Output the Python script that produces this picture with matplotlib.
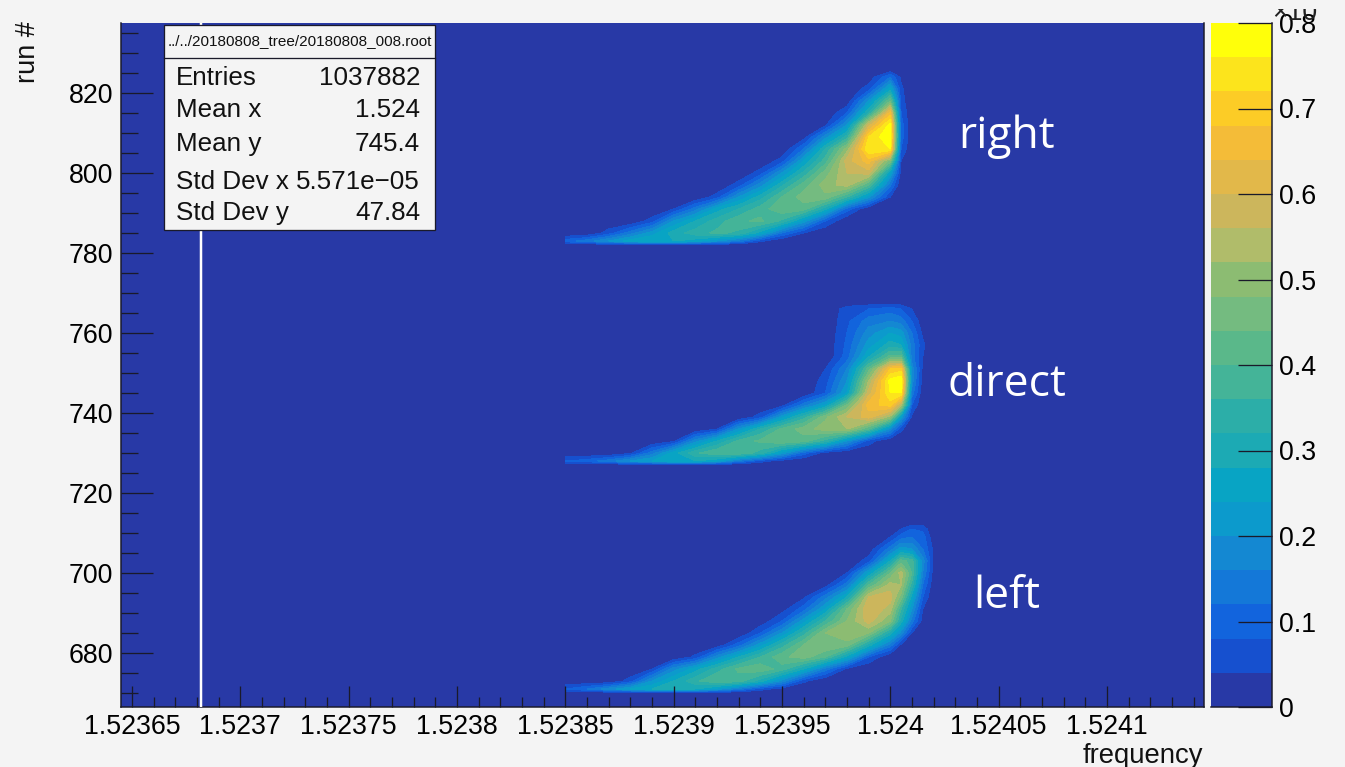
#!/usr/bin/env python3
# -*- coding: utf-8 -*-
"""
 Frequency vs run number map, three scan positions (right / direct / left)
 Values read off the picture on a coarse grid, z in units of 0.01
"""

import numpy as np
import matplotlib
matplotlib.use("Agg")
import matplotlib.pyplot as plt
from matplotlib.colors import BoundaryNorm, ListedColormap
from matplotlib.patches import Rectangle
from matplotlib.ticker import FixedLocator, FixedFormatter, MultipleLocator
from matplotlib.transforms import Bbox

# frequency nodes of the coarse grid
freq_nodes = [1.52385, 1.52386, 1.52387, 1.52388, 1.52389, 1.52390, 1.52391, 1.52392,
              1.52393, 1.52394, 1.52395, 1.52396, 1.52397, 1.52398, 1.52399, 1.52400,
              1.524005, 1.52401, 1.524015, 1.52402]

# each band: run of the row, first non empty column, values from that column on
right_runs = [782, 783, 785, 788, 791, 794, 797, 800, 803, 806, 809, 812, 815, 818, 821, 824, 826]
right_start = [0, 0, 2, 4, 5, 7, 8, 9, 10, 11, 11, 12, 13, 13, 14, 14, 0]
right_vals = [
    [],
    [10, 14, 20, 26, 28, 28, 26, 20, 14, 5],
    [6, 14, 22, 30, 34, 37, 35, 26, 12, 4],
    [6, 20, 28, 34, 39, 41, 35, 22, 8],
    [4, 14, 26, 32, 38, 43, 42, 29, 10],
    [6, 20, 30, 40, 46, 47, 36, 21, 4],
    [6, 18, 31, 42, 50, 54, 40, 13],
    [6, 20, 33, 46, 56, 58, 24, 2],
    [6, 24, 38, 58, 66, 46, 4],
    [12, 32, 50, 76, 76, 8],
    [2, 18, 34, 72, 80, 10],
    [3, 20, 58, 78, 10],
    [8, 32, 66, 8],
    [1, 20, 44, 6],
    [6, 26, 5],
    [1, 12, 3],
    [],
]

direct_runs = [727, 728, 730, 733, 736, 739, 742, 745, 748, 751, 754, 757, 760, 763, 766, 768]
direct_start = [0, 0, 3, 5, 7, 9, 10, 12, 12, 12, 13, 13, 13, 13, 13, 0]
direct_vals = [
    [],
    [8, 10, 14, 20, 24, 28, 28, 24, 14, 6, 2],
    [3, 14, 26, 35, 40, 40, 34, 22, 10, 2],
    [3, 18, 28, 37, 41, 44, 42, 34, 20, 6],
    [4, 20, 32, 41, 46, 50, 52, 40, 18, 5],
    [6, 22, 34, 47, 56, 62, 50, 22, 3],
    [2, 14, 24, 44, 66, 70, 54, 8],
    [8, 24, 58, 76, 76, 14, 1],
    [6, 20, 52, 78, 80, 18, 2],
    [4, 16, 42, 68, 70, 18, 3],
    [10, 28, 42, 42, 14, 4],
    [9, 22, 30, 28, 14, 5],
    [8, 18, 24, 22, 12, 3],
    [7, 14, 16, 14, 8, 1],
    [6, 8, 10, 8, 4],
    [],
]

left_runs = [670, 671, 673, 676, 679, 682, 685, 688, 691, 694, 697, 700, 703, 706, 709, 711, 713]
left_start = [0, 0, 3, 4, 6, 7, 9, 9, 10, 11, 12, 13, 14, 14, 15, 16, 0]
left_vals = [
    [],
    [8, 12, 18, 24, 28, 30, 28, 22, 14, 6, 2],
    [6, 20, 28, 35, 40, 38, 30, 18, 5],
    [4, 18, 26, 34, 41, 43, 38, 28, 14, 3],
    [5, 18, 28, 36, 43, 46, 40, 26, 8],
    [1, 10, 22, 34, 44, 48, 46, 30, 14, 3],
    [8, 20, 34, 48, 52, 48, 30, 18, 4],
    [1, 8, 22, 36, 48, 58, 48, 30, 14, 2],
    [2, 10, 24, 44, 60, 54, 36, 20, 4],
    [3, 14, 28, 56, 58, 46, 26, 8],
    [2, 14, 40, 54, 52, 34, 12, 1],
    [4, 24, 44, 54, 40, 16, 2],
    [6, 28, 42, 38, 18, 3],
    [1, 14, 22, 20, 12, 3],
    [4, 10, 12, 10, 1],
    [4, 8, 7],
    [],
]

white_line_freq = 1.523682

# 20 colour bands of the palette, z axis
z_levels = [0.00, 0.04, 0.08, 0.12, 0.16, 0.20, 0.24, 0.28, 0.32, 0.36, 0.40,
            0.44, 0.48, 0.52, 0.56, 0.60, 0.64, 0.68, 0.72, 0.76, 0.80]
z_colors = ["#2839a6", "#1650cf", "#1264dd", "#1478d8", "#1488d2", "#0c9acc", "#08a4c4",
            "#1caab4", "#2caea8", "#44b498", "#5ab88a", "#74bb80", "#8cbc72", "#b0bc6a",
            "#ccb65c", "#e2b84a", "#f4bc38", "#fccc26", "#fce41c", "#ffff0a"]
z_ticks = [0, 0.1, 0.2, 0.3, 0.4, 0.5, 0.6, 0.7, 0.8]
z_tick_labels = ["0", "0.1", "0.2", "0.3", "0.4", "0.5", "0.6", "0.7", "0.8"]

x_ticks = [1.52365, 1.5237, 1.52375, 1.5238, 1.52385, 1.5239, 1.52395, 1.524, 1.52405, 1.5241]
x_tick_labels = ["1.52365", "1.5237", "1.52375", "1.5238", "1.52385", "1.5239", "1.52395",
                 "1.524", "1.52405", "1.5241"]
y_ticks = [680, 700, 720, 740, 760, 780, 800, 820]

stats_header = "../../20180808_tree/20180808_008.root"
stats_labels = ["Entries", "Mean x", "Mean y", "Std Dev x", "Std Dev y"]
stats_values = ["1037882", "1.524", "745.4", "5.571e\u221205", "47.84"]

W, H = 1345, 767
BG = "#f4f4f4"
DARK = "#1a1a2a"
PX = 0.72  # one pixel in points at dpi 100

plt.rcParams["font.family"] = ["Liberation Sans", "DejaVu Sans"]


def fx(px):
    return px / W


def fy(py):
    return 1 - py / H


def add_px_axes(left, right, top, bottom):
    return fig.add_axes([fx(left), fy(bottom), (right - left) / W, (bottom - top) / H])


def band_grid(start, vals):
    z = np.zeros((len(vals), len(freq_nodes)))
    for i, row in enumerate(vals):
        z[i, start[i]:start[i] + len(row)] = row
    return z / 100.0


fig = plt.figure(figsize=(W / 100, H / 100), dpi=100, facecolor=BG)

# Main map
ax = add_px_axes(121, 1204, 23, 707)
ax.set_facecolor(z_colors[0])
for runs, start, vals in [(right_runs, right_start, right_vals),
                          (direct_runs, direct_start, direct_vals),
                          (left_runs, left_start, left_vals)]:
    ax.contourf(freq_nodes, runs, band_grid(start, vals), levels=z_levels, colors=z_colors)
ax.axvline(white_line_freq, color="white", lw=2.5 * PX, zorder=3)
ax.set_xlim(1.523645, 1.5241448)
ax.set_ylim(666.5, 837.5)

ax.xaxis.set_major_locator(FixedLocator(x_ticks))
ax.xaxis.set_major_formatter(FixedFormatter(x_tick_labels))
ax.xaxis.set_minor_locator(MultipleLocator(1e-5))
ax.yaxis.set_major_locator(FixedLocator(y_ticks))
ax.yaxis.set_minor_locator(MultipleLocator(5))
ax.tick_params(axis="x", which="major", direction="in", length=21 * PX, width=1.3 * PX,
               color=DARK, labelsize=19.3, pad=7 * PX, zorder=4)
ax.tick_params(axis="x", which="minor", direction="in", length=10 * PX, width=1.3 * PX, color=DARK)
ax.tick_params(axis="y", which="major", direction="in", length=32 * PX, width=1.3 * PX,
               color=DARK, labelsize=19.3, pad=8 * PX)
ax.tick_params(axis="y", which="minor", direction="in", length=17 * PX, width=1.3 * PX, color=DARK)
ax.spines["top"].set_visible(False)
for side in ["left", "right", "bottom"]:
    ax.spines[side].set_color(DARK)
    ax.spines[side].set_linewidth(1.5 * PX)

fig.text(fx(1203), fy(756), "frequency", ha="right", va="center", fontsize=19.8, color="#111111")
fig.text(fx(28), fy(21), "run #", ha="center", va="top", rotation=90, fontsize=19.5, color="#111111")

# Palette
cax = add_px_axes(1211, 1272, 23, 707)
cmap = ListedColormap(z_colors)
norm = BoundaryNorm(z_levels, cmap.N)
cax.pcolormesh([0, 1], z_levels, np.array(z_levels[:-1]).reshape(-1, 1) + 0.02, cmap=cmap, norm=norm)
cax.set_ylim(0, 0.8)
cax.set_xticks([])
cax.yaxis.tick_right()
cax.yaxis.set_major_locator(FixedLocator(z_ticks))
cax.yaxis.set_major_formatter(FixedFormatter(z_tick_labels))
cax.tick_params(axis="y", direction="in", length=34 * PX, width=1.3 * PX, color=DARK,
                labelsize=19.3, pad=7 * PX)
cax.spines["top"].set_visible(False)
cax.spines["left"].set_visible(False)
for side in ["right", "bottom"]:
    cax.spines[side].set_color(DARK)
    cax.spines[side].set_linewidth(1.5 * PX)

# exponent, cut off by the top of the pad
exp_txt = fig.text(fx(1272), fy(20), "\u00d710", ha="left", va="baseline", fontsize=19.3, color="#222222")
exp_txt.set_clip_on(True)
exp_txt.set_clip_box(Bbox([[0, 0], [W, H - 9]]))

# Stats box
fig.add_artist(Rectangle((fx(164), fy(230)), 271 / W, 205 / H, transform=fig.transFigure,
                         facecolor=BG, edgecolor=DARK, lw=1.3 * PX, zorder=5))
fig.add_artist(plt.Line2D([fx(164), fx(435)], [fy(58), fy(58)], color=DARK, lw=1.3 * PX, zorder=6))
fig.text(fx(299.5), fy(41.5), stats_header, ha="center", va="center", fontsize=11, color="#111111", zorder=7)
stats_y = [78, 110, 144, 182, 213]
for label, value, y in zip(stats_labels, stats_values, stats_y):
    fig.text(fx(176), fy(y), label, ha="left", va="center", fontsize=18.7, color="#111111", zorder=7)
    fig.text(fx(420), fy(y), value, ha="right", va="center", fontsize=18.7, color="#111111", zorder=7)

# Band names
for name, base in [("right", 148), ("direct", 396), ("left", 608)]:
    fig.text(fx(1007), fy(base), name, ha="center", va="baseline", color="white",
             fontsize=32, family="Open Sans", zorder=7)

fig.savefig("out.png", dpi=100, facecolor=BG)
